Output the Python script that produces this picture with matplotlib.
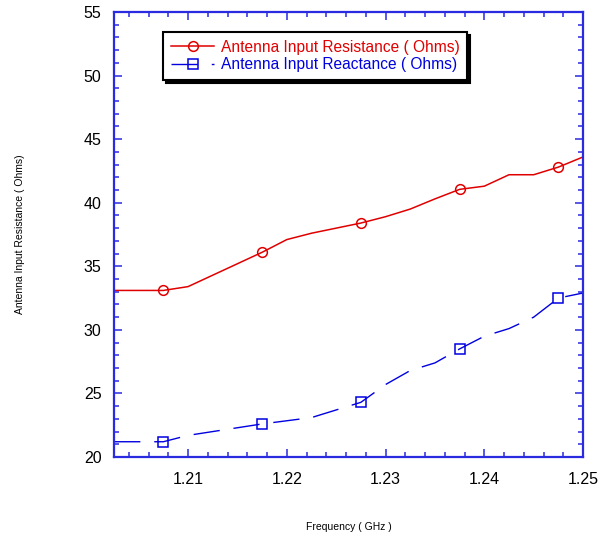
import matplotlib
matplotlib.use('Agg')
import matplotlib.pyplot as plt
from matplotlib.ticker import MultipleLocator

plt.rcParams['font.family'] = ['Liberation Sans', 'DejaVu Sans']

# frequency in GHz
freq = [1.2025, 1.205, 1.2075, 1.21, 1.2125, 1.215, 1.2175, 1.22, 1.2225, 1.225,
        1.2275, 1.23, 1.2325, 1.235, 1.2375, 1.24, 1.2425, 1.245, 1.2475, 1.25]
resistance = [33.1, 33.1, 33.1, 33.4, 34.3, 35.2, 36.1, 37.1, 37.6, 38.0,
              38.4, 38.9, 39.5, 40.3, 41.05, 41.3, 42.2, 42.2, 42.8, 43.6]
reactance = [21.2, 21.2, 21.2, 21.7, 22.0, 22.3, 22.6, 22.85, 23.1, 23.7,
             24.3, 25.7, 26.8, 27.4, 28.5, 29.5, 30.1, 31.0, 32.5, 32.9]

red = '#e00000'
blue = '#0000e0'
axcol = '#2a2ae0'

fig = plt.figure(figsize=(6.03, 5.35), dpi=100)
ax = fig.add_axes([0.189, 0.1458, 0.778, 0.8318])

ax.plot(freq, resistance, color=red, lw=1.1, marker='o', ms=7, mfc='none',
        mec=red, mew=1.1, markevery=(2, 4),
        label='Antenna Input Resistance ( Ohms)')
ax.plot(freq, reactance, color=blue, lw=1.0, ls=(0, (19, 10)), marker='s', ms=7,
        mfc='none', mec=blue, mew=1.1, markevery=(2, 4),
        label='Antenna Input Reactance ( Ohms)')

ax.set_xlim(1.2025, 1.25)
ax.set_ylim(20, 55)
ax.xaxis.set_major_locator(MultipleLocator(0.01))
ax.xaxis.set_minor_locator(MultipleLocator(0.002))
ax.yaxis.set_major_locator(MultipleLocator(5))
ax.yaxis.set_minor_locator(MultipleLocator(1))
ax.set_xticks([1.21, 1.22, 1.23, 1.24, 1.25])
ax.set_xticklabels(['1.21', '1.22', '1.23', '1.24', '1.25'])

for s in ax.spines.values():
    s.set_color(axcol)
    s.set_linewidth(1.6)
ax.tick_params(which='both', direction='in', top=True, right=True,
               color=axcol, width=1.1, labelsize=11.5, labelcolor='black')
ax.tick_params(which='major', length=6)
ax.tick_params(which='minor', length=3.6)
ax.tick_params(axis='y', pad=9)
ax.tick_params(axis='x', pad=11)

ax.set_xlabel('Frequency ( GHz )', fontsize=7.5, va='center')
ax.set_ylabel('Antenna Input Resistance ( Ohms)', fontsize=7.5, va='center')
ax.xaxis.set_label_coords(0.5, -0.157)
ax.yaxis.set_label_coords(-0.2, 0.5)

leg = ax.legend(loc='upper left', bbox_to_anchor=(0.1045, 0.955),
                borderaxespad=0, fontsize=11.2, frameon=True, fancybox=False,
                edgecolor='black', framealpha=1, handlelength=2.8,
                handletextpad=0.4, labelspacing=0.15, borderpad=0.5,
                labelcolor='linecolor',
                shadow={'color': 'black', 'alpha': 1})
leg.get_frame().set_linewidth(1.5)

fig.savefig('out.png', dpi=100)
